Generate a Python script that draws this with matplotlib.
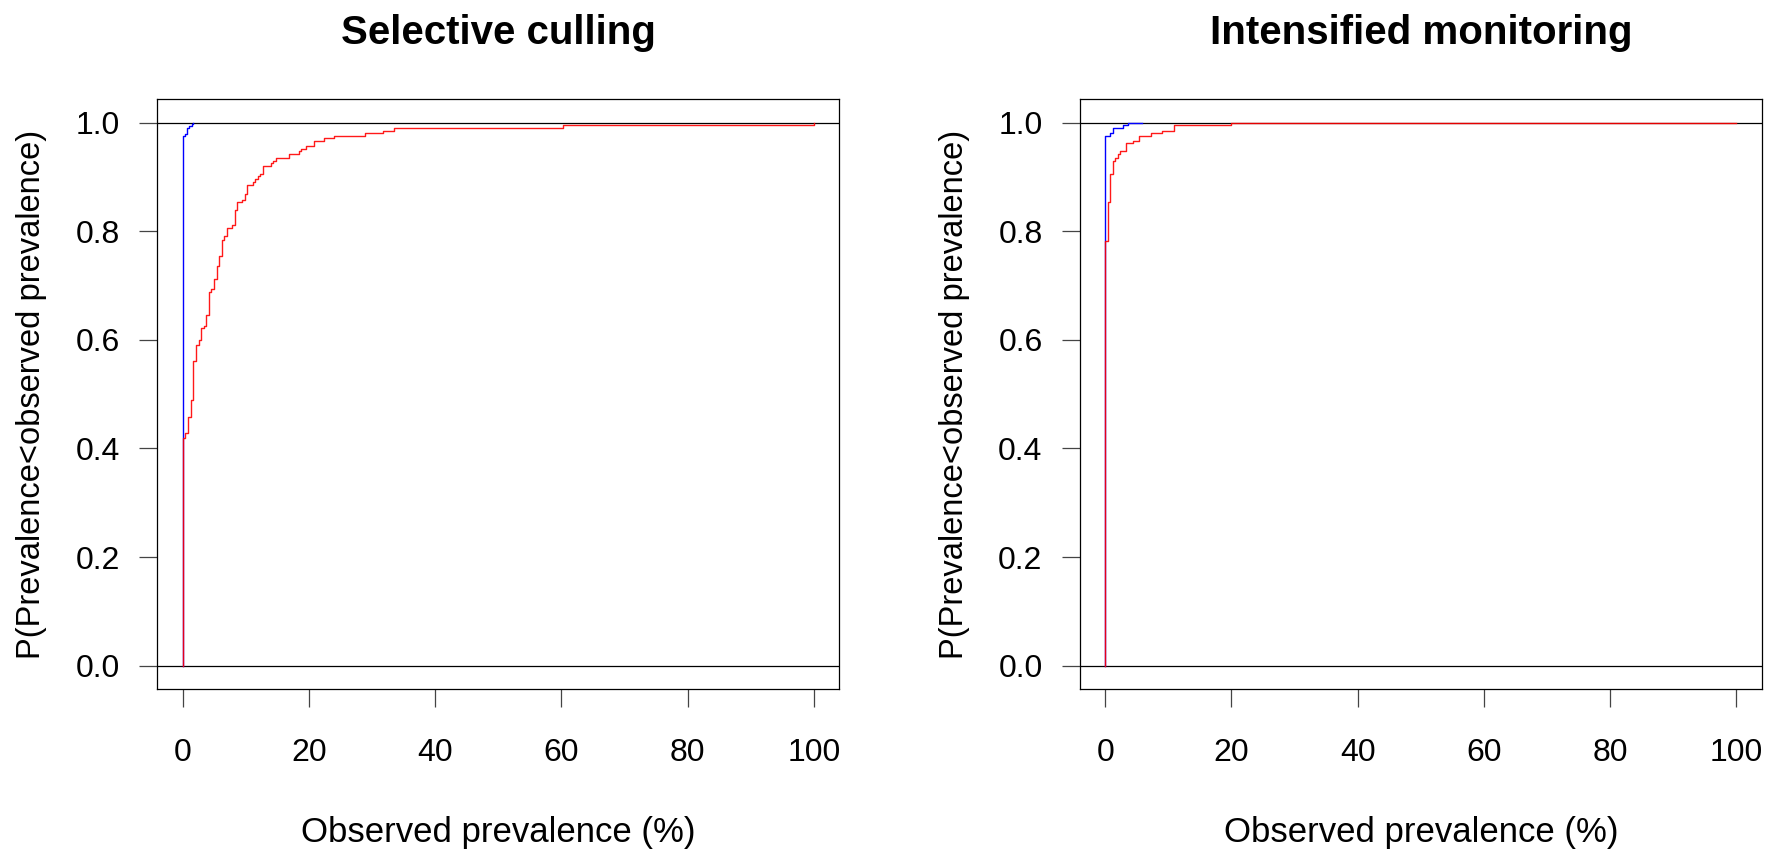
import numpy as np
import matplotlib
matplotlib.use('Agg')
import matplotlib.pyplot as plt

plt.rcParams['font.family'] = ['Liberation Sans', 'DejaVu Sans']

titles = ['Selective culling', 'Intensified monitoring']
xlabel = 'Observed prevalence (%)'
ylabel = 'P(Prevalence<observed prevalence)'

# step curves (x = observed prevalence %, p = cumulative probability)
cull_blue_x = [0, 0, 0.36, 0.74, 1.10, 1.48, 1.69]
cull_blue_p = [0, 0.975, 0.980, 0.9895, 0.9937, 0.998, 1.0]
cull_red_x = [0, 0, 0.42, 0.89, 1.27, 1.69, 2.11, 2.53, 2.90, 3.32, 3.75, 4.17, 4.54,
              4.96, 5.39, 5.81, 6.18, 6.60, 7.02, 7.82, 8.24, 8.66, 9.46, 9.88, 10.25,
              11.10, 11.52, 11.89, 12.31, 12.68, 13.95, 14.37, 14.74, 16.80, 18.39,
              18.81, 19.61, 20.82, 22.46, 24.05, 28.91, 31.82, 33.45, 60.2, 100]
cull_red_p = [0, 0.420, 0.429, 0.457, 0.490, 0.561, 0.590, 0.599, 0.622, 0.626, 0.646,
              0.688, 0.693, 0.712, 0.736, 0.755, 0.783, 0.792, 0.806, 0.811, 0.840,
              0.854, 0.858, 0.868, 0.886, 0.891, 0.896, 0.901, 0.905, 0.920, 0.925,
              0.929, 0.934, 0.943, 0.948, 0.952, 0.957, 0.966, 0.971, 0.976, 0.981,
              0.985, 0.990, 0.995, 1.0]

mon_blue_x = [0, 0, 0.74, 1.16, 2.80, 3.65, 5.9]
mon_blue_p = [0, 0.976, 0.981, 0.990, 0.995, 1.0, 1.0]
mon_red_x = [0, 0, 0.37, 0.79, 1.16, 1.59, 2.01, 2.38, 3.22, 4.44, 5.28, 7.29, 8.93,
             10.94, 19.87, 100]
mon_red_p = [0, 0.782, 0.853, 0.905, 0.929, 0.934, 0.943, 0.948, 0.962, 0.967, 0.976,
             0.981, 0.985, 0.995, 1.0, 1.0]

xticks = [0, 20, 40, 60, 80, 100]
yticks = [0.0, 0.2, 0.4, 0.6, 0.8, 1.0]

curves = [(cull_blue_x, cull_blue_p, cull_red_x, cull_red_p),
          (mon_blue_x, mon_blue_p, mon_red_x, mon_red_p)]

W, H = 1777, 851
fig = plt.figure(figsize=(W / 100, H / 100), dpi=100)
lefts = [157.3, 1080]
for i, left in enumerate(lefts):
    ax = fig.add_axes([left / W, (H - 689) / H, 681.7 / W, 589.7 / H])
    bx, bp, rx, rp = curves[i]
    ax.axhline(0, color='black', lw=0.9, zorder=1)
    ax.axhline(1, color='black', lw=0.9, zorder=1)
    ax.plot(bx, bp, drawstyle='steps-post', color='blue', lw=1.0, zorder=2)
    ax.plot(rx, rp, drawstyle='steps-post', color='red', lw=1.0, alpha=0.9, zorder=3)
    ax.set_xlim(-4, 104)
    ax.set_ylim(-0.043, 1.043)
    ax.set_xticks(xticks)
    ax.set_yticks(yticks)
    ax.set_yticklabels(['%.1f' % v for v in yticks])
    ax.tick_params(axis='both', direction='out', length=13, width=0.9, color='#444444',
                   labelsize=23)
    ax.tick_params(axis='x', pad=22)
    ax.tick_params(axis='y', pad=14)
    for s in ax.spines.values():
        s.set_linewidth(0.9)
        s.set_color('black')
    ax.set_title(titles[i], fontsize=29, fontweight='bold', pad=40)
    ax.text(0.5, -0.244, xlabel, transform=ax.transAxes, ha='center', va='center',
            fontsize=25)
    ax.text((32 + 923 * i - left) / 681.7, 0.5, ylabel, transform=ax.transAxes,
            rotation=90, ha='center', va='center', fontsize=23.5)

fig.savefig('out.png', dpi=100)
